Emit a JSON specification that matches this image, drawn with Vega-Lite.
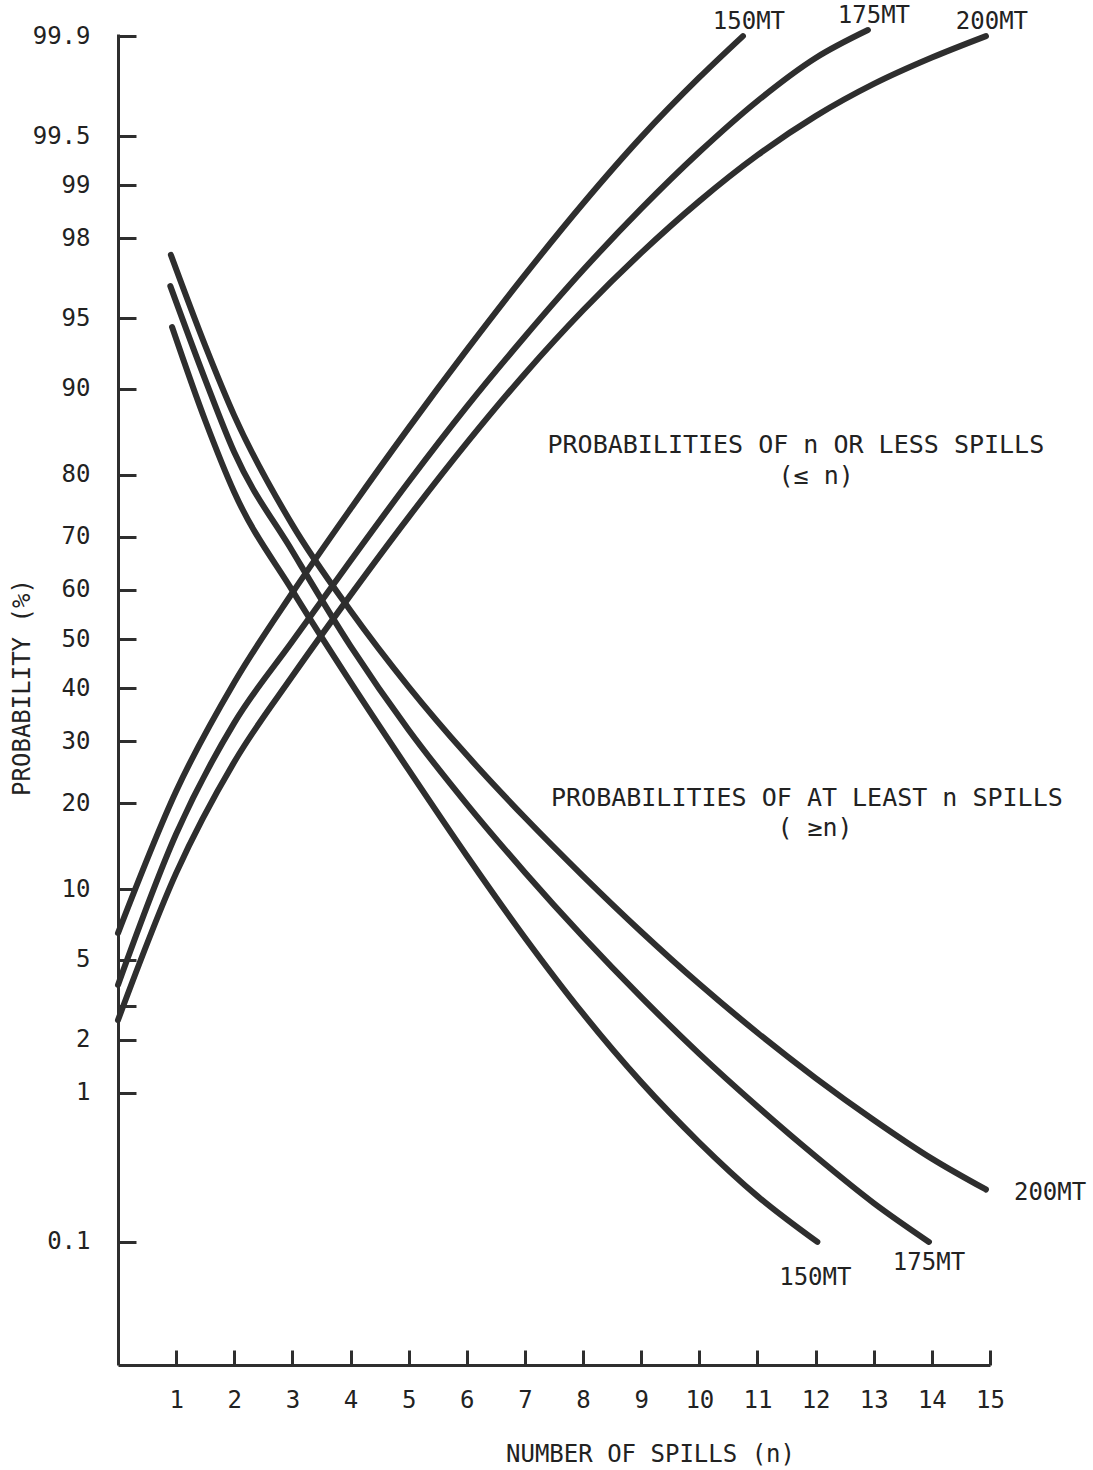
{
  "$schema": "https://vega.github.io/schema/vega-lite/v6.json",
  "autosize": "none",
  "width": 872,
  "height": 1331,
  "padding": {"left": 118, "top": 34, "right": 103, "bottom": 105},
  "background": "#ffffff",
  "config": {
    "font": "DejaVu Sans Mono",
    "view": {"stroke": null},
    "axis": {
      "grid": false,
      "domainColor": "#2e2e2e",
      "domainWidth": 3,
      "tickColor": "#2e2e2e",
      "tickWidth": 3,
      "labelFont": "DejaVu Sans Mono",
      "labelFontSize": 24,
      "labelColor": "#222222",
      "labelOverlap": false,
      "labelFlush": false,
      "titleFont": "DejaVu Sans Mono",
      "titleFontSize": 24,
      "titleFontWeight": "normal",
      "titleColor": "#222222"
    },
    "text": {"font": "DejaVu Sans Mono", "fontSize": 24, "color": "#222222"}
  },
  "datasets": {
    "curves": [
      {"size": "150MT", "kind": "le", "n": 0, "p": 6.59},
      {"size": "150MT", "kind": "le", "n": 1, "p": 21.77},
      {"size": "150MT", "kind": "le", "n": 2, "p": 41.18},
      {"size": "150MT", "kind": "le", "n": 3, "p": 59.37},
      {"size": "150MT", "kind": "le", "n": 4, "p": 74.76},
      {"size": "150MT", "kind": "le", "n": 5, "p": 86.04},
      {"size": "150MT", "kind": "le", "n": 6, "p": 93.08},
      {"size": "150MT", "kind": "le", "n": 7, "p": 96.9},
      {"size": "150MT", "kind": "le", "n": 8, "p": 98.72},
      {"size": "150MT", "kind": "le", "n": 9, "p": 99.495},
      {"size": "150MT", "kind": "le", "n": 10, "p": 99.8},
      {"size": "150MT", "kind": "le", "n": 10.75, "p": 99.9},

      {"size": "175MT", "kind": "le", "n": 0, "p": 3.81},
      {"size": "175MT", "kind": "le", "n": 1, "p": 15.87},
      {"size": "175MT", "kind": "le", "n": 2, "p": 33.36},
      {"size": "175MT", "kind": "le", "n": 3, "p": 49.52},
      {"size": "175MT", "kind": "le", "n": 4, "p": 65.58},
      {"size": "175MT", "kind": "le", "n": 5, "p": 78.99},
      {"size": "175MT", "kind": "le", "n": 6, "p": 88.32},
      {"size": "175MT", "kind": "le", "n": 7, "p": 93.95},
      {"size": "175MT", "kind": "le", "n": 8, "p": 97.07},
      {"size": "175MT", "kind": "le", "n": 9, "p": 98.63},
      {"size": "175MT", "kind": "le", "n": 10, "p": 99.372},
      {"size": "175MT", "kind": "le", "n": 11, "p": 99.709},
      {"size": "175MT", "kind": "le", "n": 12, "p": 99.855},
      {"size": "175MT", "kind": "le", "n": 12.9, "p": 99.91},

      {"size": "200MT", "kind": "le", "n": 0, "p": 2.54},
      {"size": "200MT", "kind": "le", "n": 1, "p": 11.51},
      {"size": "200MT", "kind": "le", "n": 2, "p": 26.43},
      {"size": "200MT", "kind": "le", "n": 3, "p": 42.47},
      {"size": "200MT", "kind": "le", "n": 4, "p": 58.9},
      {"size": "200MT", "kind": "le", "n": 5, "p": 73.4},
      {"size": "200MT", "kind": "le", "n": 6, "p": 84.26},
      {"size": "200MT", "kind": "le", "n": 7, "p": 91.31},
      {"size": "200MT", "kind": "le", "n": 8, "p": 95.4},
      {"size": "200MT", "kind": "le", "n": 9, "p": 97.61},
      {"size": "200MT", "kind": "le", "n": 10, "p": 98.76},
      {"size": "200MT", "kind": "le", "n": 11, "p": 99.343},
      {"size": "200MT", "kind": "le", "n": 12, "p": 99.632},
      {"size": "200MT", "kind": "le", "n": 13, "p": 99.778},
      {"size": "200MT", "kind": "le", "n": 14, "p": 99.856},
      {"size": "200MT", "kind": "le", "n": 14.93, "p": 99.9},

      {"size": "150MT", "kind": "ge", "n": 0.93, "p": 94.51},
      {"size": "150MT", "kind": "ge", "n": 1.5, "p": 86.86},
      {"size": "150MT", "kind": "ge", "n": 2, "p": 77.4},
      {"size": "150MT", "kind": "ge", "n": 3, "p": 59.79},
      {"size": "150MT", "kind": "ge", "n": 4, "p": 41.25},
      {"size": "150MT", "kind": "ge", "n": 5, "p": 25.11},
      {"size": "150MT", "kind": "ge", "n": 6, "p": 13.33},
      {"size": "150MT", "kind": "ge", "n": 7, "p": 6.29},
      {"size": "150MT", "kind": "ge", "n": 8, "p": 2.74},
      {"size": "150MT", "kind": "ge", "n": 9, "p": 1.157},
      {"size": "150MT", "kind": "ge", "n": 10, "p": 0.493},
      {"size": "150MT", "kind": "ge", "n": 11, "p": 0.215},
      {"size": "150MT", "kind": "ge", "n": 12.03, "p": 0.1},

      {"size": "175MT", "kind": "ge", "n": 0.9, "p": 96.48},
      {"size": "175MT", "kind": "ge", "n": 1.5, "p": 90.82},
      {"size": "175MT", "kind": "ge", "n": 2, "p": 83.07},
      {"size": "175MT", "kind": "ge", "n": 3, "p": 67.36},
      {"size": "175MT", "kind": "ge", "n": 4, "p": 48.56},
      {"size": "175MT", "kind": "ge", "n": 5, "p": 32.06},
      {"size": "175MT", "kind": "ge", "n": 6, "p": 19.88},
      {"size": "175MT", "kind": "ge", "n": 7, "p": 11.58},
      {"size": "175MT", "kind": "ge", "n": 8, "p": 6.35},
      {"size": "175MT", "kind": "ge", "n": 9, "p": 3.32},
      {"size": "175MT", "kind": "ge", "n": 10, "p": 1.675},
      {"size": "175MT", "kind": "ge", "n": 11, "p": 0.829},
      {"size": "175MT", "kind": "ge", "n": 12, "p": 0.401},
      {"size": "175MT", "kind": "ge", "n": 13, "p": 0.192},
      {"size": "175MT", "kind": "ge", "n": 13.95, "p": 0.1},

      {"size": "200MT", "kind": "ge", "n": 0.91, "p": 97.55},
      {"size": "200MT", "kind": "ge", "n": 1.5, "p": 93.37},
      {"size": "200MT", "kind": "ge", "n": 2, "p": 87.39},
      {"size": "200MT", "kind": "ge", "n": 3, "p": 72.07},
      {"size": "200MT", "kind": "ge", "n": 4, "p": 55.76},
      {"size": "200MT", "kind": "ge", "n": 5, "p": 40.32},
      {"size": "200MT", "kind": "ge", "n": 6, "p": 27.59},
      {"size": "200MT", "kind": "ge", "n": 7, "p": 18.01},
      {"size": "200MT", "kind": "ge", "n": 8, "p": 11.22},
      {"size": "200MT", "kind": "ge", "n": 9, "p": 6.68},
      {"size": "200MT", "kind": "ge", "n": 10, "p": 3.85},
      {"size": "200MT", "kind": "ge", "n": 11, "p": 2.18},
      {"size": "200MT", "kind": "ge", "n": 12, "p": 1.222},
      {"size": "200MT", "kind": "ge", "n": 13, "p": 0.685},
      {"size": "200MT", "kind": "ge", "n": 14, "p": 0.387},
      {"size": "200MT", "kind": "ge", "n": 14.93, "p": 0.239}
    ]
  },
  "layer": [
    {
      "data": {"name": "curves"},
      "transform": [{"calculate": "quantileNormal(datum.p / 100)", "as": "z"}],
      "mark": {"type": "line", "interpolate": "monotone", "strokeWidth": 6, "strokeCap": "round", "color": "#2e2e2e"},
      "encoding": {
        "x": {
          "field": "n",
          "type": "quantitative",
          "scale": {"domain": [0, 15], "nice": false, "zero": false},
          "axis": {
            "values": [1, 2, 3, 4, 5, 6, 7, 8, 9, 10, 11, 12, 13, 14, 15],
            "format": "d",
            "tickSize": -15,
            "labelPadding": 38,
            "title": "NUMBER OF SPILLS (n)",
            "titleX": 532,
            "titleY": 89,
            "titleAlign": "center",
            "titleBaseline": "middle"
          }
        },
        "y": {
          "field": "z",
          "type": "quantitative",
          "scale": {"domain": [-3.721, 3.101], "nice": false, "zero": false},
          "axis": {
            "values": [3.0902, 2.5758, 2.3263, 2.0537, 1.6449, 1.2816, 0.8416, 0.5244, 0.2533, 0, -0.2533, -0.5244, -0.8416, -1.2816, -1.6449, -1.8808, -2.0537, -2.3263, -3.0902],
            "labelExpr": "abs(datum.value + 1.8808) < 0.001 ? '' : format(round(cumulativeNormal(datum.value) * 1000) / 10, '~g')",
            "tickSize": -18,
            "labelPadding": 46,
            "title": "PROBABILITY (%)",
            "titleAngle": -90,
            "titleX": -96,
            "titleY": 653,
            "titleAlign": "center",
            "titleBaseline": "middle"
          }
        },
        "detail": [{"field": "size"}, {"field": "kind"}]
      }
    },
    {
      "data": {"name": "curves"},
      "transform": [
        {"calculate": "quantileNormal(datum.p / 100)", "as": "z"},
        {"joinaggregate": [{"op": "max", "field": "n", "as": "nEnd"}], "groupby": ["size", "kind"]},
        {"filter": "datum.n === datum.nEnd && datum.kind === 'le'"}
      ],
      "mark": {"type": "text", "align": "center", "baseline": "middle", "dx": 6, "dy": -14},
      "encoding": {
        "x": {"field": "n", "type": "quantitative"},
        "y": {"field": "z", "type": "quantitative"},
        "text": {"field": "size"}
      }
    },
    {
      "data": {"name": "curves"},
      "transform": [
        {"calculate": "quantileNormal(datum.p / 100)", "as": "z"},
        {"joinaggregate": [{"op": "max", "field": "n", "as": "nEnd"}], "groupby": ["size", "kind"]},
        {"filter": "datum.n === datum.nEnd && datum.kind === 'ge' && datum.size === '150MT'"}
      ],
      "mark": {"type": "text", "align": "center", "baseline": "middle", "dx": -2, "dy": 36},
      "encoding": {
        "x": {"field": "n", "type": "quantitative"},
        "y": {"field": "z", "type": "quantitative"},
        "text": {"field": "size"}
      }
    },
    {
      "data": {"name": "curves"},
      "transform": [
        {"calculate": "quantileNormal(datum.p / 100)", "as": "z"},
        {"joinaggregate": [{"op": "max", "field": "n", "as": "nEnd"}], "groupby": ["size", "kind"]},
        {"filter": "datum.n === datum.nEnd && datum.kind === 'ge' && datum.size === '175MT'"}
      ],
      "mark": {"type": "text", "align": "center", "baseline": "middle", "dx": 0, "dy": 21},
      "encoding": {
        "x": {"field": "n", "type": "quantitative"},
        "y": {"field": "z", "type": "quantitative"},
        "text": {"field": "size"}
      }
    },
    {
      "data": {"name": "curves"},
      "transform": [
        {"calculate": "quantileNormal(datum.p / 100)", "as": "z"},
        {"joinaggregate": [{"op": "max", "field": "n", "as": "nEnd"}], "groupby": ["size", "kind"]},
        {"filter": "datum.n === datum.nEnd && datum.kind === 'ge' && datum.size === '200MT'"}
      ],
      "mark": {"type": "text", "align": "left", "baseline": "middle", "dx": 28, "dy": 3},
      "encoding": {
        "x": {"field": "n", "type": "quantitative"},
        "y": {"field": "z", "type": "quantitative"},
        "text": {"field": "size"}
      }
    },
    {
      "data": {"values": [{}]},
      "mark": {"type": "text", "align": "center", "baseline": "middle", "fontSize": 25, "text": "PROBABILITIES OF n OR LESS SPILLS"},
      "encoding": {"x": {"datum": 11.66}, "y": {"datum": 0.994}}
    },
    {
      "data": {"values": [{}]},
      "mark": {"type": "text", "align": "center", "baseline": "middle", "fontSize": 25, "text": "(≤ n)"},
      "encoding": {"x": {"datum": 12.01}, "y": {"datum": 0.835}}
    },
    {
      "data": {"values": [{}]},
      "mark": {"type": "text", "align": "center", "baseline": "middle", "fontSize": 25, "text": "PROBABILITIES OF AT LEAST n SPILLS"},
      "encoding": {"x": {"datum": 11.85}, "y": {"datum": -0.815}}
    },
    {
      "data": {"values": [{}]},
      "mark": {"type": "text", "align": "center", "baseline": "middle", "fontSize": 25, "text": "( ≥n)"},
      "encoding": {"x": {"datum": 11.99}, "y": {"datum": -0.969}}
    }
  ]
}
